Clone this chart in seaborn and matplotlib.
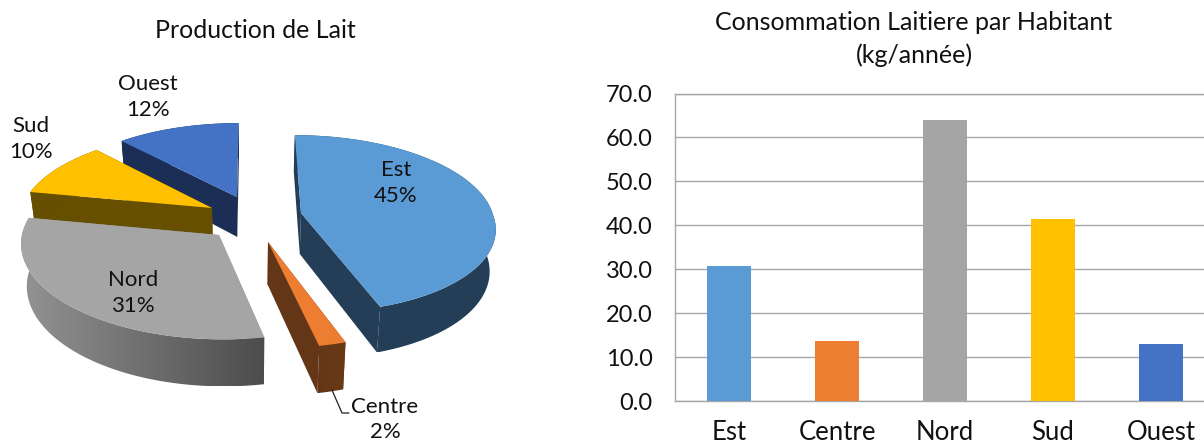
import numpy as np
import pandas as pd
import matplotlib
matplotlib.use("Agg")
import matplotlib.pyplot as plt
from matplotlib.patches import Polygon
from matplotlib.colors import to_rgb
import seaborn as sns

# Regional dairy figures
regions = ["Est", "Centre", "Nord", "Sud", "Ouest"]
production_share = [45, 2, 31, 10, 12]
consumption_kg = [30.8, 13.7, 64.0, 41.5, 13.0]
y_ticks = [0, 10, 20, 30, 40, 50, 60, 70]

top_colors = ["#5B9BD5", "#ED7D31", "#A5A5A5", "#FFC000", "#4472C4"]
side_left = ["#243E57", "#643618", "#939393", "#664F00", "#1B2E55"]
side_right = ["#243E57", "#6A3A16", "#4C4C4C", "#664F00", "#1B2E55"]

# Layout of the exploded slices, in pixels on the canvas
slice_tips = [(301, 213), (268, 242), (219, 235), (212, 208), (237, 197)]
pie_label_pos = [(396, 183), (133, 293), (31, 139), (148, 97)]
pie_label_regions = ["Est", "Nord", "Sud", "Ouest"]
draw_order = ["Ouest", "Sud", "Nord", "Est", "Centre"]

CX, CY, RX, RY = 250.0, 215.0, 192.0, 89.0
PERSP, DEPTH, SHRINK, SHEAR = 0.12, 41.0, 0.975, 8.0

W, H = 1204, 443
sns.set_theme(style="white")
plt.rcParams["font.family"] = ["Lato", "DejaVu Sans"]
TXT = "#111111"

fig = plt.figure(figsize=(W / 100, H / 100), dpi=100, facecolor="white")


def project(u, v):
    s = 1 + PERSP * v
    return CX + RX * u * s + SHEAR * np.maximum(v, 0), CY + RY * v * s


def unproject(x, y):
    t = (y - CY) / RY
    v = (-1 + np.sqrt(1 + 4 * PERSP * t)) / (2 * PERSP)
    return (x - SHEAR * max(v, 0) - CX) / (RX * (1 + PERSP * v)), v


def lower(x, y, v):
    # Bottom rim of the disc: pushed down and pulled slightly towards the centre
    return CX + (x - CX) * SHRINK, y + DEPTH * (1 + PERSP * v)


pie_ax = fig.add_axes([0, 0, 1, 1])

# Slice angles follow the shares, clockwise from twelve o'clock
edges = np.cumsum([0] + production_share) * 3.6
spans = {r: (edges[i], edges[i + 1]) for i, r in enumerate(regions)}

z = 1
for name in draw_order:
    i = regions.index(name)
    a0, a1 = np.radians(spans[name])
    u0, v0 = unproject(*slice_tips[i])
    th = np.linspace(a0, a1, max(6, int(np.degrees(a1 - a0))))
    u = u0 + np.sin(th)
    v = v0 - np.cos(th)
    x, y = project(u, v)
    xt, yt = project(u0, v0)
    xb, yb = lower(x, y, v)
    xtb, ytb = lower(xt, yt, v0)

    # Radial faces
    for k in (0, -1):
        pie_ax.add_patch(Polygon([(xt, yt), (x[k], y[k]), (xb[k], yb[k]), (xtb, ytb)],
                                 closed=True, color=side_left[i], lw=0, zorder=z))
        z += 1

    # Outer rim, shaded from left to right
    rim = Polygon(np.column_stack([np.r_[x, xb[::-1]], np.r_[y, yb[::-1]]]),
                  closed=True, transform=pie_ax.transData, fc="none", ec="none")
    pie_ax.add_patch(rim)
    ramp = np.linspace(to_rgb(side_left[i]), to_rgb(side_right[i]), 256)[None, :, :]
    img = pie_ax.imshow(ramp, extent=(min(x.min(), xb.min()), max(x.max(), xb.max()),
                                      max(y.max(), yb.max()), min(y.min(), yb.min())),
                        aspect="auto", zorder=z, interpolation="bilinear")
    img.set_clip_path(rim)
    z += 1

    # Top surface
    pie_ax.fill(np.r_[xt, x], np.r_[yt, y], color=top_colors[i], lw=0, zorder=z)
    z += 1

pie_ax.set_xlim(0, W)
pie_ax.set_ylim(H, 0)
pie_ax.axis("off")

for name, (lx, ly) in zip(pie_label_regions, pie_label_pos):
    share = production_share[regions.index(name)]
    pie_ax.text(lx, ly, f"{name}\n{share}%", ha="center", va="center", fontsize=16,
                color=TXT, linespacing=1.37, zorder=z)

# Leader line and label of the thin slice
pie_ax.plot([332, 342, 349], [390, 413, 413], color="#222222", lw=0.9, zorder=z)
pie_ax.text(385, 419.5, f"Centre\n{production_share[1]}%", ha="center", va="center",
            fontsize=16, color=TXT, linespacing=1.37, zorder=z)

pie_ax.text(255, 30, "Production de Lait", ha="center", va="center", fontsize=18, color=TXT)
pie_ax.text(914, 39, "Consommation Laitiere par Habitant\n(kg/année)", ha="center",
            va="center", fontsize=18, color=TXT, linespacing=1.44)

# Bar chart: the last category runs up to the canvas edge
left, right, top, bottom = 675, 1215, 93.5, 401
bar_ax = fig.add_axes([left / W, 1 - bottom / H, (right - left) / W, (bottom - top) / H])
df = pd.DataFrame({"region": regions, "kg": consumption_kg})
sns.barplot(data=df, x="region", y="kg", hue="region", palette=top_colors, legend=False,
            width=0.41, saturation=1, linewidth=0, ax=bar_ax, zorder=3)
bar_ax.set_xlim(-0.5, 4.5)
bar_ax.set_ylim(0, 70)
bar_ax.set_yticks(y_ticks)
bar_ax.set_yticklabels([f"{t:.1f}" for t in y_ticks])
bar_ax.set_xlabel("")
bar_ax.set_ylabel("")
bar_ax.yaxis.grid(True, color="#A6A6A6", lw=1, zorder=0)
bar_ax.set_axisbelow(True)
bar_ax.tick_params(axis="y", length=0, pad=16, labelsize=17, labelcolor=TXT)
bar_ax.tick_params(axis="x", length=0, pad=13.5, labelsize=18.5, labelcolor=TXT)
for spine in bar_ax.spines.values():
    spine.set_color("#A6A6A6")
    spine.set_linewidth(1)

fig.savefig("out.png", dpi=100, facecolor="white")
